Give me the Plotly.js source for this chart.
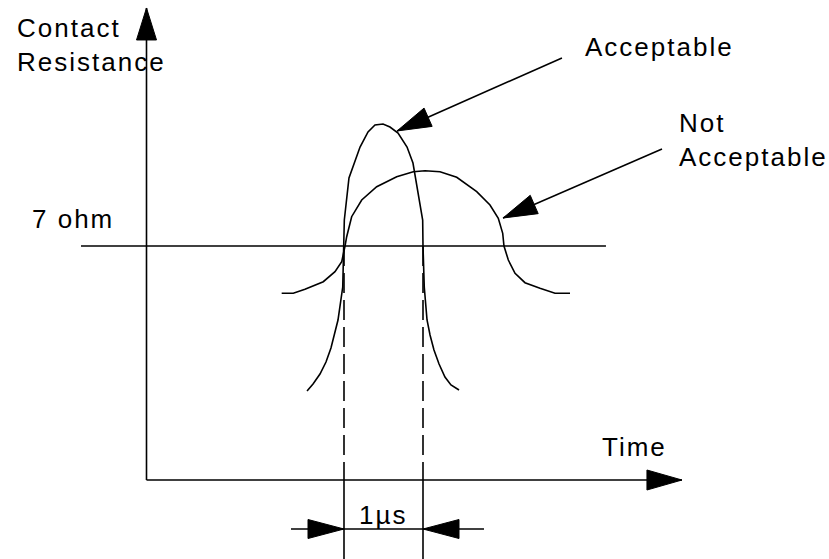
<!DOCTYPE html>
<html>
<head>
<meta charset="utf-8">
<script src="https://cdn.plot.ly/plotly-3.0.1.min.js"></script>
<style>
  html, body { margin: 0; padding: 0; background: #ffffff; }
  #chart { width: 829px; height: 559px; }
  .annotation-text { letter-spacing: 2px; }
</style>
</head>
<body>
<div id="chart"></div>
<script>
// ---------------- DATA (time in µs, contact resistance in ohm) ----------------
const acceptableT = [2.032, 2.108, 2.196, 2.272, 2.335, 2.386, 2.424, 2.484, 2.500, 2.504, 2.563, 2.703, 2.804, 2.892, 2.994, 3.082, 3.184, 3.298, 3.373, 3.437, 3.496, 3.500, 3.516, 3.551, 3.589, 3.639, 3.703, 3.778, 3.854, 3.956];
const acceptableR = [2.662, 2.872, 3.171, 3.530, 3.949, 4.397, 4.786, 5.773, 7.0, 7.777, 9.034, 9.961, 10.410, 10.619, 10.649, 10.559, 10.380, 9.961, 9.482, 8.585, 7.777, 7.0, 5.773, 4.786, 4.337, 3.889, 3.470, 3.081, 2.842, 2.692];

const notAcceptableT = [1.711, 1.858, 2.006, 2.238, 2.386, 2.471, 2.513, 2.534, 2.597, 2.724, 2.914, 3.167, 3.377, 3.525, 3.715, 3.927, 4.180, 4.348, 4.453, 4.509, 4.525, 4.580, 4.665, 4.791, 4.981, 5.171, 5.361];
const notAcceptableR = [5.585, 5.585, 5.704, 5.932, 6.231, 6.530, 7.0, 7.278, 7.876, 8.376, 8.774, 9.073, 9.222, 9.252, 9.222, 9.055, 8.624, 8.226, 7.828, 7.380, 7.0, 6.581, 6.183, 5.902, 5.734, 5.585, 5.585];

const thresholdOhm = 7;
const thresholdSpanT = [-0.829, 5.816];
const pulseEdgesT = [2.5, 3.5];          // 1 µs window
const resistanceAxisTopR = 14.12;
const timeAxisEndT = 6.778;
const dimensionR = -1.466;
const dimensionSpanT = [1.829, 4.272];

const calloutAcceptableTail = [5.259, 12.623];
const calloutAcceptableTip = [3.171, 10.440];
const calloutNotAcceptableTail = [6.525, 9.901];
const calloutNotAcceptableTip = [4.513, 7.837];

const labelResistanceAxis = 'Contact<br>Resistance';
const labelThreshold = '7 ohm';
const labelTime = 'Time';
const labelAcceptable = 'Acceptable';
const labelNotAcceptable = 'Not<br>Acceptable';
const labelPulse = '1µs';

// ---------------- LAYOUT GEOMETRY ----------------
const W = 829, H = 559;
const PX_PER_US = 79, PX_PER_OHM = 33.43;
const ORIGIN_X = 146.5, ORIGIN_Y = 480;
const xRange = [-ORIGIN_X / PX_PER_US, (W - ORIGIN_X) / PX_PER_US];
const yRange = [(ORIGIN_Y - H) / PX_PER_OHM, ORIGIN_Y / PX_PER_OHM];

function toPx(t, r) { return [ORIGIN_X + t * PX_PER_US, ORIGIN_Y - r * PX_PER_OHM]; }
function toData(px, py) { return [(px - ORIGIN_X) / PX_PER_US, (ORIGIN_Y - py) / PX_PER_OHM]; }

const INK = '#000000';
const LW = 1.6;
const FS = 26;
const FONT = 'Liberation Sans, Arial, sans-serif';

function line(xs, ys, dash) {
  return { type: 'scatter', mode: 'lines', x: xs, y: ys, hoverinfo: 'skip', showlegend: false,
           line: { color: INK, width: LW, dash: dash || 'solid' } };
}
// filled triangular arrowhead: tip at `tip`, pointing away from `from`
function head(tip, from, len, wid) {
  const [tx, ty] = toPx(tip[0], tip[1]);
  const [fx, fy] = toPx(from[0], from[1]);
  const d = Math.hypot(fx - tx, fy - ty);
  const ux = (fx - tx) / d, uy = (fy - ty) / d;
  const bx = tx + ux * len, by = ty + uy * len;
  const px = -uy, py = ux;
  const pts = [[tx, ty], [bx + px * wid / 2, by + py * wid / 2], [bx - px * wid / 2, by - py * wid / 2], [tx, ty]]
    .map(p => toData(p[0], p[1]));
  return { type: 'scatter', mode: 'lines', x: pts.map(p => p[0]), y: pts.map(p => p[1]),
           fill: 'toself', fillcolor: INK, line: { color: INK, width: 1 }, hoverinfo: 'skip', showlegend: false };
}

const traces = [];
// axes
traces.push(line([0, 0], [0, resistanceAxisTopR]));
traces.push(head([0, resistanceAxisTopR], [0, 0], 32, 20));
traces.push(line([0, timeAxisEndT], [0, 0]));
traces.push(head([timeAxisEndT, 0], [0, 0], 35, 20));
// threshold
traces.push(line(thresholdSpanT, [thresholdOhm, thresholdOhm]));
// pulse edges: dashed above time axis, solid below
pulseEdgesT.forEach(t => {
  traces.push(line([t, t], [thresholdOhm, 0], '20px,7px'));
  traces.push(line([t, t], [0, yRange[0] - 0.5]));
});
// curves
traces.push(line(acceptableT, acceptableR));
traces.push(line(notAcceptableT, notAcceptableR));
// callouts
traces.push(line([calloutAcceptableTail[0], calloutAcceptableTip[0]], [calloutAcceptableTail[1], calloutAcceptableTip[1]]));
traces.push(head(calloutAcceptableTip, calloutAcceptableTail, 34, 20));
traces.push(line([calloutNotAcceptableTail[0], calloutNotAcceptableTip[0]], [calloutNotAcceptableTail[1], calloutNotAcceptableTip[1]]));
traces.push(head(calloutNotAcceptableTip, calloutNotAcceptableTail, 34, 20));
// dimension
traces.push(line(dimensionSpanT, [dimensionR, dimensionR]));
traces.push(head([pulseEdgesT[0], dimensionR], [dimensionSpanT[0], dimensionR], 36, 19));
traces.push(head([pulseEdgesT[1], dimensionR], [dimensionSpanT[1], dimensionR], 36, 19));

// text labels positioned in pixels (left/center x, baseline y)
function label(text, px, baseline, anchor) {
  const top = baseline - 0.905 * FS - 1;
  return { text: text, xref: 'paper', yref: 'paper', x: px / W, y: 1 - top / H,
           xanchor: anchor || 'left', yanchor: 'top', align: 'left', showarrow: false,
           font: { family: FONT, size: FS, color: INK } };
}
const annotations = [
  label(labelResistanceAxis, 15, 36),
  label(labelThreshold, 30, 227),
  label(labelTime, 600, 455),
  label(labelAcceptable, 583, 55),
  label(labelNotAcceptable, 677, 131),
  label(labelPulse, 383, 523, 'center')
];

const layout = {
  width: W, height: H,
  margin: { l: 0, r: 0, t: 0, b: 0, pad: 0 },
  paper_bgcolor: '#ffffff', plot_bgcolor: '#ffffff',
  xaxis: { range: xRange, visible: false, fixedrange: true },
  yaxis: { range: yRange, visible: false, fixedrange: true },
  annotations: annotations,
  showlegend: false
};
Plotly.newPlot('chart', traces, layout, { staticPlot: true, displayModeBar: false });
</script>
</body>
</html>
